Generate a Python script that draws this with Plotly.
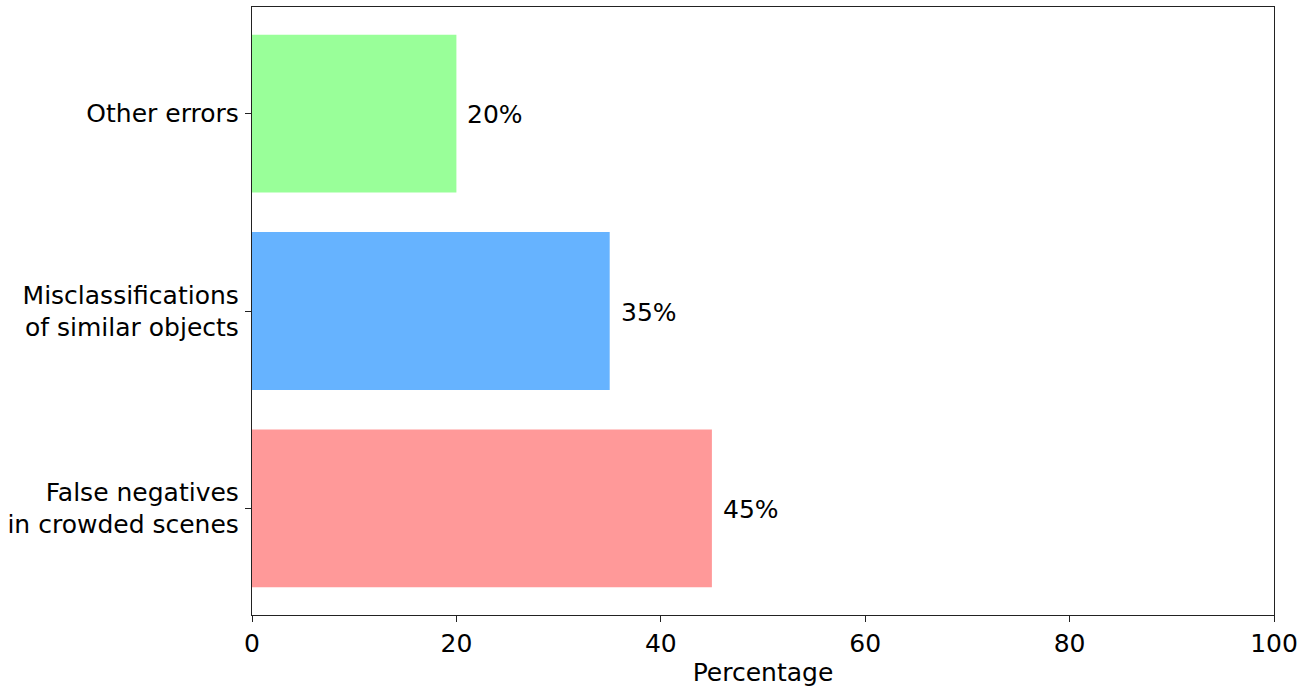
import plotly.graph_objects as go

categories = ["False negatives<br>in crowded scenes", "Misclassifications<br>of similar objects", "Other errors"]
percentages = [45, 35, 20]
bar_colors = ["#FF9999", "#66B3FF", "#99FF99"]
x_ticks = [0, 20, 40, 60, 80, 100]

font_family = "DejaVu Sans"
fsize = 25

fig = go.Figure()
fig.add_trace(go.Bar(
    y=categories, x=percentages,
    orientation="h",
    width=0.8,
    marker=dict(color=bar_colors, line=dict(width=0)),
    hoverinfo="x+y",
))

# value labels just right of each bar
for cat, val in zip(categories, percentages):
    fig.add_annotation(
        x=val, y=cat, text=f"{val}%",
        showarrow=False, xanchor="left", yanchor="middle",
        xshift=9, yshift=-1, font=dict(family=font_family, size=fsize, color="#000000"),
    )

axis_common = dict(
    showline=True, linecolor="#222222", linewidth=1.3, mirror=True,
    ticks="outside", ticklen=6, tickwidth=1.3, tickcolor="#222222",
    showgrid=False, zeroline=False, automargin=False,
    tickfont=dict(family=font_family, size=fsize, color="#000000"),
)

fig.update_layout(
    width=1300, height=691,
    paper_bgcolor="white", plot_bgcolor="white",
    margin=dict(l=252, r=26, t=7, b=76),
    showlegend=False,
    font=dict(family=font_family, size=fsize, color="#000000"),
    xaxis=dict(
        range=[0, 100], tickvals=x_ticks,
        title=dict(text="Percentage", font=dict(family=font_family, size=fsize), standoff=6),
        **axis_common,
    ),
    yaxis=dict(
        range=[-0.54, 2.54], categoryorder="array", categoryarray=categories,
        ticklabelstandoff=1,
        **axis_common,
    ),
)

fig.write_html("out.html", config={"displayModeBar": False},
               post_script="document.body.style.margin='0';")
